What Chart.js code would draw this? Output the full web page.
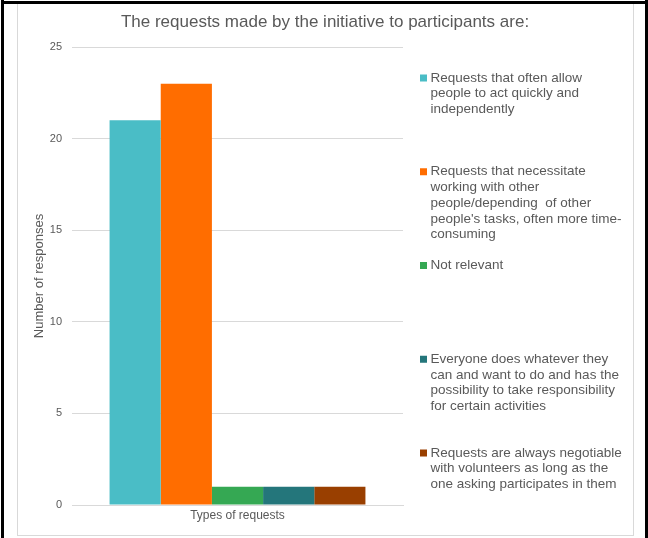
<!DOCTYPE html>
<html>
<head>
<meta charset="utf-8">
<script src="https://cdn.jsdelivr.net/npm/chart.js@4/dist/chart.umd.min.js"></script>
<style>
  html, body { margin: 0; padding: 0; background: #ffffff; }
  #wrap { position: relative; width: 648px; height: 538px; overflow: hidden; }
  #c { position: absolute; left: 0; top: 0; }
  .ln { position: absolute; pointer-events: none; }
</style>
</head>
<body>
<div id="wrap">
  <canvas id="c" width="648" height="538"></canvas>
  <div class="ln" style="left:17px;top:3px;width:615px;height:531px;border:1px solid #d9d9d9;"></div>
  <div class="ln" style="left:1px;top:0;width:3px;height:538px;background:#000;"></div>
  <div class="ln" style="left:645px;top:0;width:3px;height:538px;background:#000;"></div>
  <div class="ln" style="left:1px;top:1px;width:647px;height:3px;background:#000;"></div>
</div>
<script>
// ---- data ----
const chartTitle = "The requests made by the initiative to participants are:";
const categories = ["Types of requests"];
const seriesNames = [
  ["Requests that often allow", "people to act quickly and", "independently"],
  ["Requests that necessitate", "working with other", "people/depending  of other", "people's tasks, often more time-", "consuming"],
  ["Not relevant"],
  ["Everyone does whatever they", "can and want to do and has the", "possibility to take responsibility", "for certain activities"],
  ["Requests are always negotiable", "with volunteers as long as the", "one asking participates in them"]
];
const seriesValues = [21, 23, 1, 1, 1];
const seriesColors = ["#4abdc6", "#ff6d00", "#35a853", "#24767b", "#993f00"];
const yTicks = [0, 5, 10, 15, 20, 25];
const yTitle = "Number of responses";

const FONT = "'Liberation Sans', Arial, sans-serif";
const TXT = "#595959";

const datasets = seriesValues.map((v, i) => ({
  label: seriesNames[i].join(" "),
  data: [v],
  backgroundColor: seriesColors[i],
  borderWidth: 0,
  categoryPercentage: 0.773,
  barPercentage: 1.0
}));

const decor = {
  id: 'decor',
  afterDraw(chart) {
    const ctx = chart.ctx;
    ctx.save();
    // title
    ctx.fillStyle = TXT;
    ctx.font = "17px " + FONT;
    ctx.textAlign = "center";
    ctx.textBaseline = "middle";
    ctx.fillText(chartTitle, 325, 22);
    // legend
    ctx.font = "13.5px " + FONT;
    ctx.textAlign = "left";
    const startY = 78, step = 93.75, lh = 15.7;
    seriesNames.forEach((lines, i) => {
      const y0 = startY + i * step;
      ctx.fillStyle = seriesColors[i];
      ctx.fillRect(420, y0 - 3.5, 7, 7);
      ctx.fillStyle = TXT;
      lines.forEach((t, k) => ctx.fillText(t, 430.5, y0 + k * lh));
    });
    ctx.restore();
  }
};

new Chart(document.getElementById('c'), {
  type: 'bar',
  data: { labels: categories, datasets },
  options: {
    responsive: false,
    animation: false,
    layout: { padding: { left: 0, right: 245, top: 47, bottom: 0 } },
    plugins: { legend: { display: false }, title: { display: false }, tooltip: { enabled: false } },
    scales: {
      x: {
        grid: { display: false, drawTicks: false },
        border: { display: true, color: "#d9d9d9", width: 1 },
        ticks: { color: TXT, font: { family: FONT, size: 12 }, padding: 3 },
        afterFit(s) { s.height = 33; }
      },
      y: {
        min: 0, max: 25,
        afterBuildTicks(s) { s.ticks = yTicks.map(v => ({ value: v })); },
        grid: { color: "#d9d9d9", drawTicks: false },
        border: { display: false },
        ticks: { color: TXT, font: { family: FONT, size: 11 }, padding: 10 },
        title: { display: true, text: yTitle, color: TXT, font: { family: FONT, size: 13 }, padding: { top: 32, bottom: 0 } },
        afterFit(s) { s.width = 72; }
      }
    }
  },
  plugins: [decor]
});
</script>
</body>
</html>
